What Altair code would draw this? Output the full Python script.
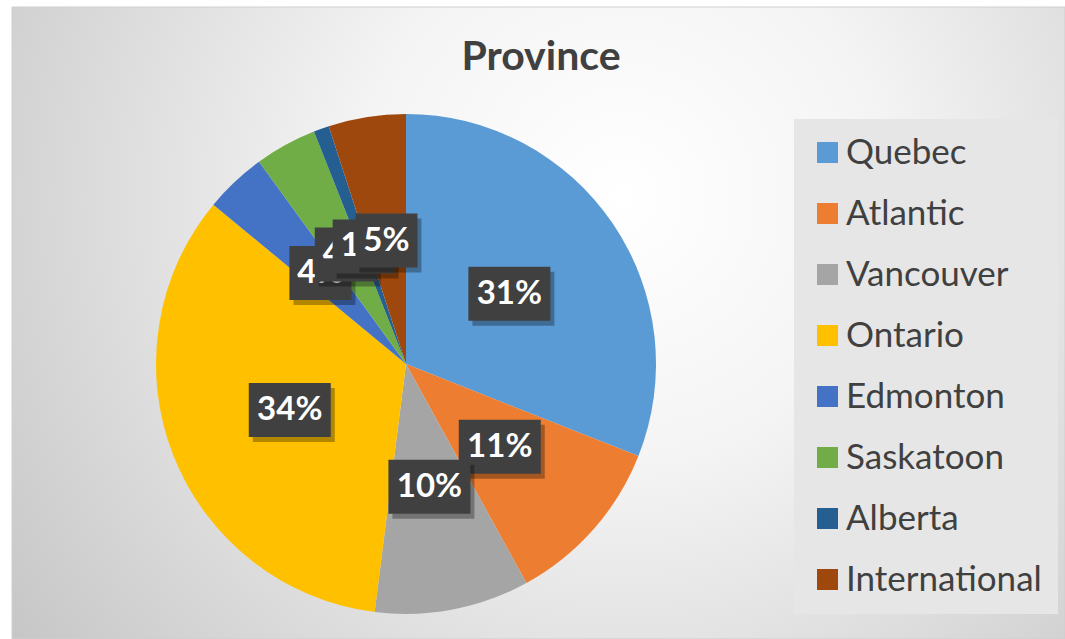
import altair as alt
import pandas as pd

categories = ["Quebec", "Atlantic", "Vancouver", "Ontario", "Edmonton", "Saskatoon", "Alberta", "International"]
values = [31, 11, 10, 34, 4, 4, 1, 5]
labels = ["31%", "11%", "10%", "34%", "4%", "4%", "1%", "5%"]
colors = ["#5B9BD5", "#ED7D31", "#A5A5A5", "#FFC000", "#4472C4", "#70AD47", "#255E91", "#9E480E"]
title_text = ["Province"]

df = pd.DataFrame({"category": categories, "value": values, "label": labels,
                   "idx": list(range(len(categories)))})

W, H = 1065, 639
CX, CY, R, LR = 406, 364, 250, 125
FONT = "Lato"

bg = alt.Chart(pd.DataFrame({"k": [0]})).mark_rect(
    color=alt.Gradient(
        gradient="radial", x1=0.58, y1=0.38, x2=0.58, y2=0.38, r1=0, r2=0.72,
        stops=[alt.GradientStop(offset=0, color="#ffffff"),
               alt.GradientStop(offset=0.35, color="#f4f4f4"),
               alt.GradientStop(offset=1, color="#c6c6c6")]),
    stroke="#cfcfcf", strokeWidth=1,
).encode(x=alt.value(12), x2=alt.value(W), y=alt.value(7), y2=alt.value(H))

title = alt.Chart(pd.DataFrame({"t": title_text})).mark_text(
    font=FONT, fontSize=41, fontWeight="bold", color="#404040",
    align="center", baseline="alphabetic",
).encode(x=alt.value(541), y=alt.value(70), text="t:N")

pie = alt.Chart(df).mark_arc(outerRadius=R).encode(
    theta=alt.Theta("value:Q", stack=True),
    color=alt.Color("category:N", sort=categories,
                    scale=alt.Scale(domain=categories, range=colors),
                    legend=alt.Legend(title=None, orient="none", legendX=794, legendY=119,
                                      padding=16, fillColor="#e6e6e6",
                                      symbolType="square", symbolSize=441, symbolStrokeWidth=0,
                                      symbolOpacity=1,
                                      labelFontSize=35, labelFont=FONT, labelColor="#404040",
                                      labelOffset=1, rowPadding=25, labelLimit=300)),
    order=alt.Order("idx:Q"),
    x=alt.value(CX), y=alt.value(CY),
)

base = alt.Chart(df).transform_window(
    cum="sum(value)", sort=[alt.SortField("idx")], frame=[None, 0]
).transform_joinaggregate(total="sum(value)").transform_calculate(
    ang="2*PI*(datum.cum - datum.value/2)/datum.total",
    lx=f"{CX} + {LR}*sin(datum.ang)",
    ly=f"{CY} - {LR}*cos(datum.ang)",
    hw="length(datum.label) > 2 ? 41 : 31",
    bx1="datum.lx - datum.hw", bx2="datum.lx + datum.hw",
    by1="datum.ly - 27", by2="datum.ly + 27",
    sx1="datum.bx1 + 4", sx2="datum.bx2 + 4",
    sy1="datum.by1 + 5", sy2="datum.by2 + 5",
)

layers = [bg, title, pie]
for c in categories:
    b = base.transform_filter(alt.datum.category == c)
    shadow = b.mark_rect(color="#000000", opacity=0.3).encode(
        x=alt.X("sx1:Q", scale=None, axis=None), x2="sx2:Q",
        y=alt.Y("sy1:Q", scale=None, axis=None), y2="sy2:Q")
    box = b.mark_rect(color="#404040").encode(
        x=alt.X("bx1:Q", scale=None, axis=None), x2="bx2:Q",
        y=alt.Y("by1:Q", scale=None, axis=None), y2="by2:Q")
    txt = b.mark_text(font=FONT, fontSize=33, fontWeight="bold", color="#ffffff",
                      align="center", baseline="middle").encode(
        x=alt.X("lx:Q", scale=None, axis=None),
        y=alt.Y("ly:Q", scale=None, axis=None),
        text="label:N")
    layers += [shadow, box, txt]

chart = alt.layer(*layers).properties(
    width=W, height=H,
    autosize=alt.AutoSizeParams(type="none"),
    padding=0,
    background="#ffffff",
).configure_view(stroke=None)

chart.save("out.html", embed_options={"renderer": "svg", "actions": False})
